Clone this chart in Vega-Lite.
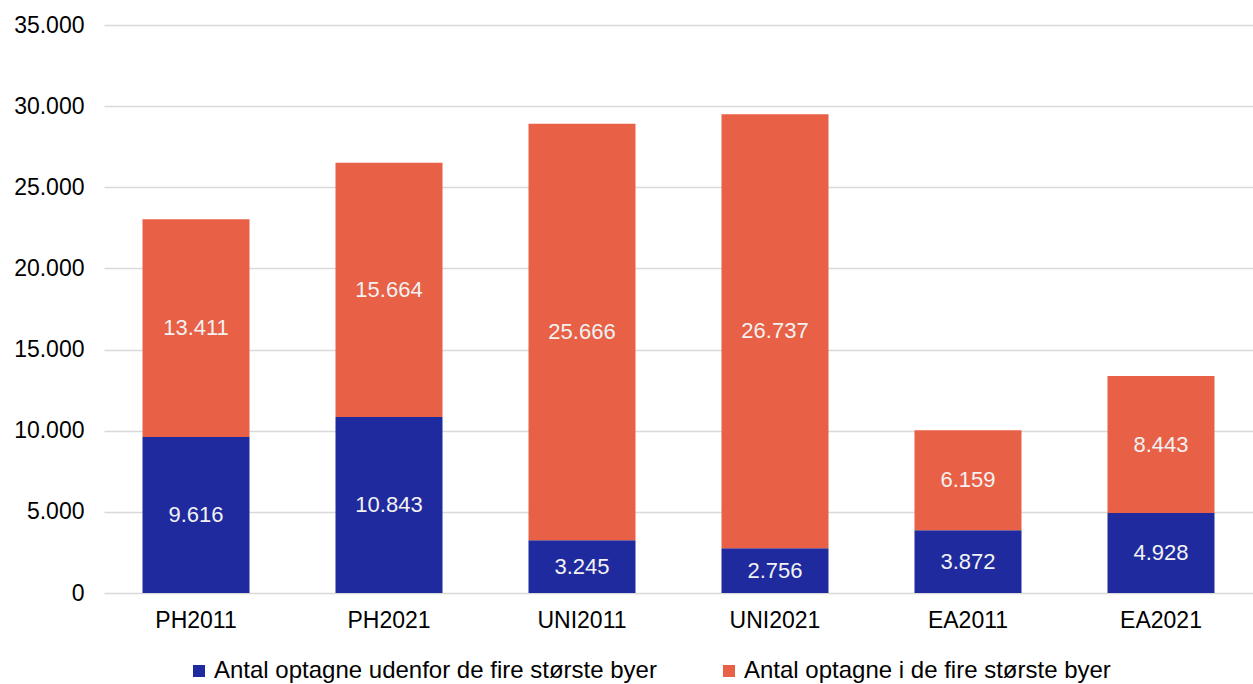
{
  "$schema": "https://vega.github.io/schema/vega-lite/v6.json",
  "width": 1149,
  "height": 568,
  "autosize": {"type": "none"},
  "padding": {"left": 104, "top": 25, "right": 0, "bottom": 91},
  "background": "white",
  "config": {
    "view": {"stroke": null},
    "locale": {"number": {"decimal": ",", "thousands": ".", "grouping": [3], "currency": ["", " kr."]}},
    "font": "Liberation Sans"
  },
  "data": {
    "values": [
      {"kategori": "PH2011", "serie": "Antal optagne udenfor de fire største byer", "antal": 9616},
      {"kategori": "PH2011", "serie": "Antal optagne i de fire største byer", "antal": 13411},
      {"kategori": "PH2021", "serie": "Antal optagne udenfor de fire største byer", "antal": 10843},
      {"kategori": "PH2021", "serie": "Antal optagne i de fire største byer", "antal": 15664},
      {"kategori": "UNI2011", "serie": "Antal optagne udenfor de fire største byer", "antal": 3245},
      {"kategori": "UNI2011", "serie": "Antal optagne i de fire største byer", "antal": 25666},
      {"kategori": "UNI2021", "serie": "Antal optagne udenfor de fire største byer", "antal": 2756},
      {"kategori": "UNI2021", "serie": "Antal optagne i de fire største byer", "antal": 26737},
      {"kategori": "EA2011", "serie": "Antal optagne udenfor de fire største byer", "antal": 3872},
      {"kategori": "EA2011", "serie": "Antal optagne i de fire største byer", "antal": 6159},
      {"kategori": "EA2021", "serie": "Antal optagne udenfor de fire største byer", "antal": 4928},
      {"kategori": "EA2021", "serie": "Antal optagne i de fire største byer", "antal": 8443}
    ]
  },
  "transform": [
    {"stack": "antal", "groupby": ["kategori"], "sort": [{"field": "serie", "order": "descending"}], "as": ["v0", "v1"]},
    {"calculate": "(datum.v0 + datum.v1) / 2", "as": "labelpos"}
  ],
  "encoding": {
    "x": {
      "field": "kategori", "type": "nominal", "sort": null,
      "scale": {"paddingInner": 0.4456, "paddingOuter": 0.1995},
      "axis": {"title": null, "labelAngle": 0, "ticks": false, "domain": false, "labelFontSize": 23, "labelColor": "#000000", "labelPadding": 16, "labelFont": "Liberation Sans"}
    }
  },
  "layer": [
    {
      "mark": {"type": "bar"},
      "encoding": {
        "y": {
          "field": "v0", "type": "quantitative",
          "scale": {"domain": [0, 35000], "nice": false},
          "axis": {"title": null, "values": [0, 5000, 10000, 15000, 20000, 25000, 30000, 35000], "format": ",d", "ticks": false, "domain": false, "gridColor": "#D9D9D9", "gridWidth": 1.5, "labelFontSize": 23, "labelColor": "#000000", "labelPadding": 20, "labelFont": "Liberation Sans", "labelOverlap": false}
        },
        "y2": {"field": "v1"},
        "color": {
          "field": "serie", "type": "nominal",
          "scale": {"domain": ["Antal optagne udenfor de fire største byer", "Antal optagne i de fire største byer"], "range": ["#1F2A9E", "#E86045"]},
          "legend": {
            "title": null, "orient": "none", "direction": "horizontal", "legendX": 83, "legendY": 634,
            "symbolType": "square", "symbolSize": 144, "symbolStrokeWidth": 0, "labelFontSize": 24, "labelColor": "#000000",
            "labelFont": "Liberation Sans", "labelOffset": 3, "columnPadding": 60, "labelLimit": 700
          }
        }
      }
    },
    {
      "mark": {"type": "text", "fontSize": 22, "color": "#F2F2F2", "font": "Liberation Sans", "baseline": "middle"},
      "encoding": {
        "y": {"field": "labelpos", "type": "quantitative"},
        "text": {"field": "antal", "type": "quantitative", "format": ",d"}
      }
    }
  ]
}
